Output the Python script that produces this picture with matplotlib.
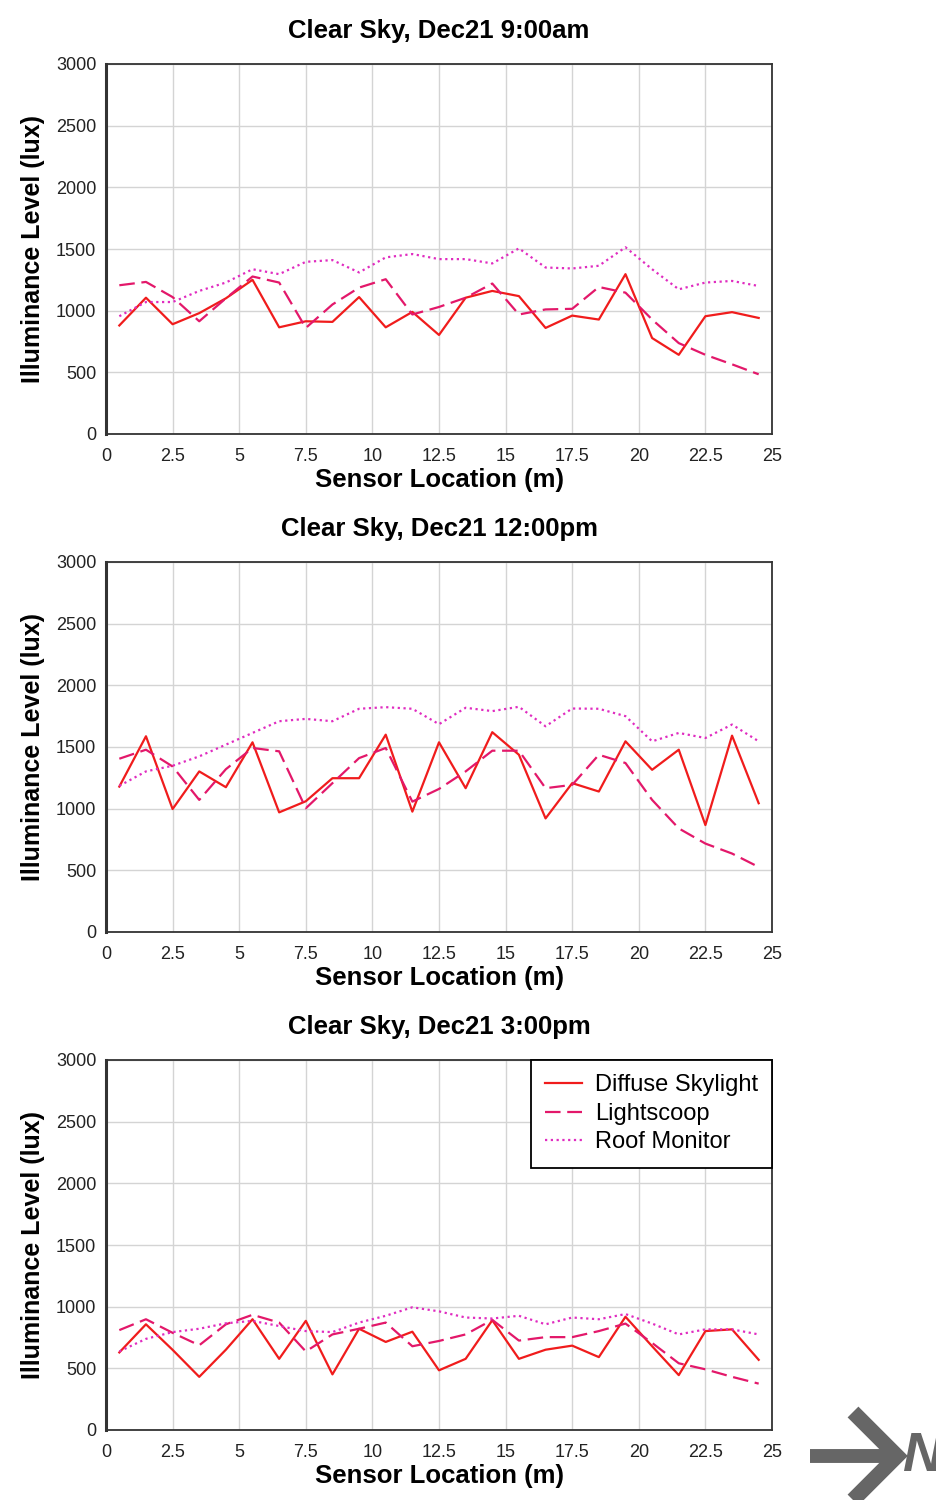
import matplotlib
matplotlib.use("Agg")
import matplotlib.pyplot as plt
from matplotlib.lines import Line2D

plt.rcParams['font.family'] = ['Liberation Sans', 'DejaVu Sans']

# Sensor positions along the building (m)
sensor_x = [0.5 + i for i in range(25)]

titles = ["Clear Sky, Dec21 9:00am", "Clear Sky, Dec21 12:00pm", "Clear Sky, Dec21 3:00pm"]
series_names = ["Diffuse Skylight", "Lightscoop", "Roof Monitor"]

# 9:00am
diffuse_9am = [880, 1105, 890, 980, 1100, 1250, 865, 914, 909, 1110, 865, 990, 803,
               1105, 1160, 1118, 860, 960, 928, 1296, 778, 642, 955, 988, 941]
scoop_9am = [1206, 1233, 1110, 914, 1100, 1277, 1228, 860, 1050, 1187, 1255, 969, 1030,
             1105, 1220, 969, 1010, 1015, 1192, 1146, 928, 737, 642, 565, 484]
monitor_9am = [955, 1070, 1070, 1160, 1228, 1336, 1296, 1396, 1410, 1310, 1432, 1459, 1418,
               1418, 1383, 1505, 1350, 1342, 1364, 1514, 1336, 1173, 1228, 1241, 1200]

# 12:00pm
diffuse_12pm = [1179, 1587, 997, 1302, 1174, 1538, 970, 1060, 1247, 1247, 1600, 976, 1538,
                1166, 1620, 1437, 921, 1207, 1139, 1546, 1315, 1478, 867, 1592, 1044]
scoop_12pm = [1405, 1478, 1342, 1071, 1320, 1492, 1465, 1003, 1207, 1410, 1492, 1057, 1160,
              1302, 1470, 1470, 1166, 1193, 1437, 1370, 1071, 840, 717, 636, 527]
monitor_12pm = [1185, 1302, 1348, 1424, 1519, 1614, 1709, 1728, 1709, 1810, 1823, 1810, 1685,
                1818, 1791, 1826, 1668, 1812, 1810, 1750, 1546, 1614, 1573, 1682, 1546]

# 3:00pm
diffuse_3pm = [629, 857, 650, 431, 651, 898, 577, 885, 451, 821, 714, 797, 484,
               577, 890, 577, 651, 684, 591, 918, 679, 445, 802, 816, 569]
scoop_3pm = [810, 898, 788, 687, 857, 934, 871, 637, 775, 821, 871, 679, 722,
             775, 893, 725, 753, 753, 802, 863, 706, 541, 492, 431, 376]
monitor_3pm = [637, 739, 794, 821, 865, 885, 843, 802, 794, 871, 926, 995, 962,
               912, 904, 926, 857, 912, 898, 940, 863, 775, 816, 816, 775]

panels = [
    (diffuse_9am, scoop_9am, monitor_9am),
    (diffuse_12pm, scoop_12pm, monitor_12pm),
    (diffuse_3pm, scoop_3pm, monitor_3pm),
]

x_ticks = [0, 2.5, 5, 7.5, 10, 12.5, 15, 17.5, 20, 22.5, 25]
x_tick_labels = ["0", "2.5", "5", "7.5", "10", "12.5", "15", "17.5", "20", "22.5", "25"]
y_ticks = [0, 500, 1000, 1500, 2000, 2500, 3000]

colors = ["#f01c1c", "#e3186a", "#e02cc0"]
styles = [dict(linestyle="-"),
          dict(linestyle=(0, (7, 3))),
          dict(linestyle=(0, (1, 1.6)))]

W, H = 936, 1500
fig = plt.figure(figsize=(W / 100, H / 100), dpi=100)

axes_top_px = [64, 562, 1060]
ax_left, ax_right = 106, 772
ax_h = 370

for (top, title, data) in zip(axes_top_px, titles, panels):
    ax = fig.add_axes([ax_left / W, 1 - (top + ax_h) / H, (ax_right - ax_left) / W, ax_h / H])
    for vals, name, c, st in zip(data, series_names, colors, styles):
        ax.plot(sensor_x, vals, color=c, lw=1.6, label=name, **st)
    ax.set_xlim(0, 25)
    ax.set_ylim(0, 3000)
    ax.set_xticks(x_ticks)
    ax.set_xticklabels(x_tick_labels)
    ax.set_yticks(y_ticks)
    ax.grid(True, color="#d4d4d4", lw=1)
    ax.set_axisbelow(True)
    ax.tick_params(length=0, labelsize=13, colors="#222222")
    ax.tick_params(axis="x", pad=10)
    ax.tick_params(axis="y", pad=7)
    for sp in ax.spines.values():
        sp.set_color("#333333")
        sp.set_linewidth(1.3)
    ax.spines["left"].set_linewidth(2.2)
    ax.set_title(title, fontsize=18.5, fontweight="bold", pad=19)
    ax.set_xlabel("Sensor Location (m)", fontsize=18.5, fontweight="bold", labelpad=2)
    ax.set_ylabel("Illuminance Level (lux)", fontsize=18, fontweight="bold", labelpad=8)
    last_ax = ax

leg = last_ax.legend(loc="upper right", fontsize=17, frameon=True, fancybox=False,
                     edgecolor="black", framealpha=1, borderaxespad=0,
                     handlelength=1.55, handletextpad=0.55, borderpad=0.6,
                     labelspacing=0.28)
leg.get_frame().set_linewidth(1.3)

# North arrow
gray = "#666666"
def fx(px):
    return px / W
def fy(py):
    return 1 - py / H
fig.add_artist(Line2D([fx(810), fx(892)], [fy(1456), fy(1456)], color=gray, lw=10,
                      solid_capstyle="butt"))
fig.add_artist(Line2D([fx(853), fx(897), fx(853)], [fy(1412), fy(1456), fy(1500)],
                      color=gray, lw=11, solid_capstyle="butt", solid_joinstyle="miter"))
fig.text(fx(902), fy(1457), "N", color=gray, fontsize=40, fontweight="bold",
         fontstyle="italic", ha="left", va="center")

fig.savefig("out.png", dpi=100)
